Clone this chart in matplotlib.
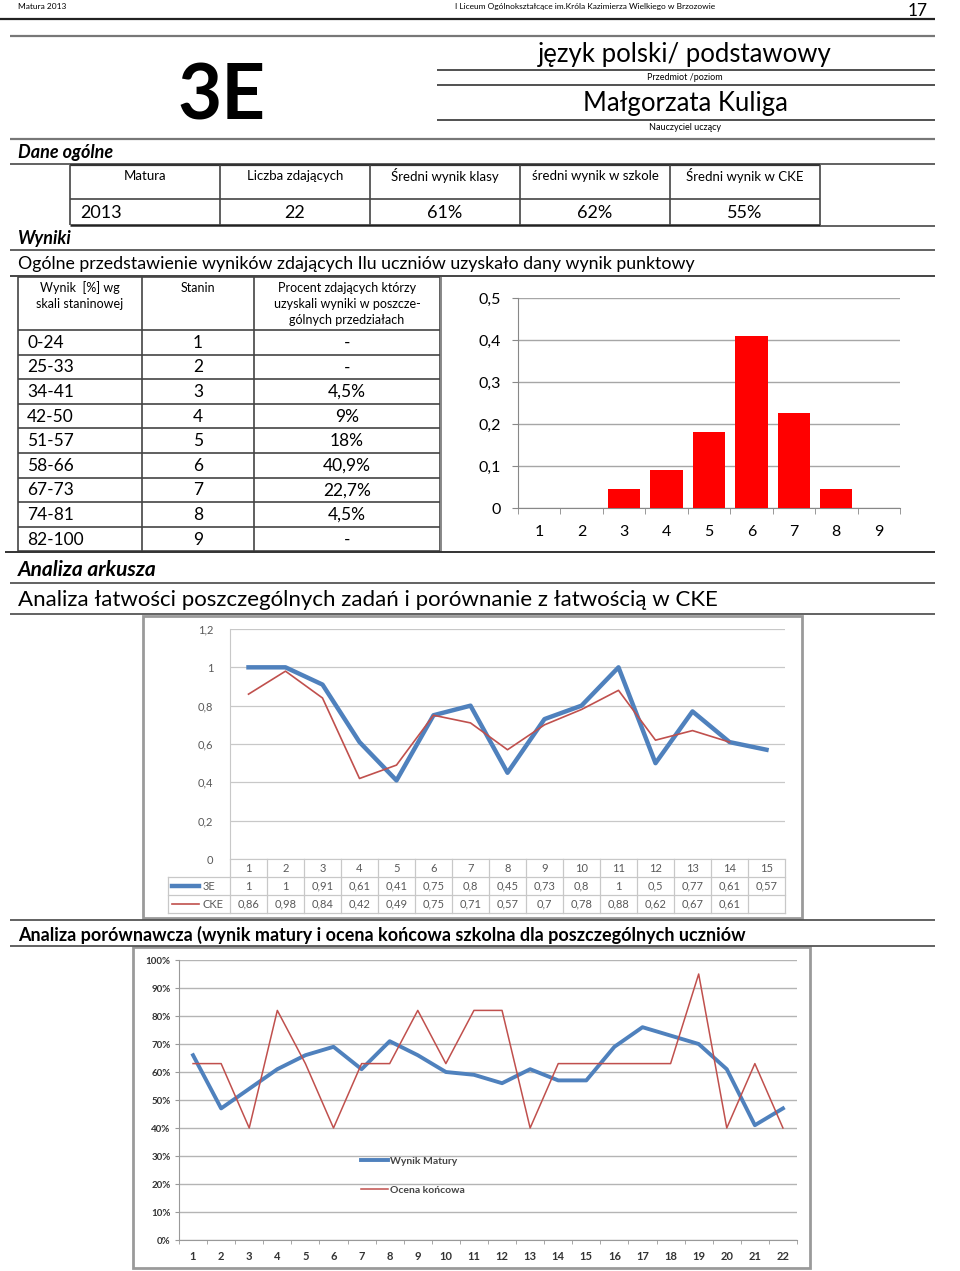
import matplotlib
matplotlib.use('Agg')
import matplotlib.pyplot as plt
import matplotlib.transforms as mtransforms
from matplotlib.patches import Rectangle

plt.rcParams['font.family'] = ['Lato', 'DejaVu Sans']

# --- dane ---
dane_naglowki = ['Matura', 'Liczba zdających', 'Średni wynik klasy', 'średni wynik w szkole', 'Średni wynik w CKE']
dane_wartosci = ['2013', '22', '61%', '62%', '55%']

przedzialy = ['0-24', '25-33', '34-41', '42-50', '51-57', '58-66', '67-73', '74-81', '82-100']
staniny = [1, 2, 3, 4, 5, 6, 7, 8, 9]
udzial = [0, 0, 0.045, 0.09, 0.18, 0.409, 0.227, 0.045, 0]

zadania = list(range(1, 16))
latwosc_3e = [1, 1, 0.91, 0.61, 0.41, 0.75, 0.8, 0.45, 0.73, 0.8, 1, 0.5, 0.77, 0.61, 0.57]
latwosc_cke = [0.86, 0.98, 0.84, 0.42, 0.49, 0.75, 0.71, 0.57, 0.7, 0.78, 0.88, 0.62, 0.67, 0.61]

uczniowie = list(range(1, 23))
wynik_matury = [66, 47, 54, 61, 66, 69, 61, 71, 66, 60, 59, 56, 61, 57, 57, 69, 76, 73, 70, 61, 41, 47]
ocena_koncowa = [63, 63, 40, 82, 63, 40, 63, 63, 82, 63, 82, 82, 40, 63, 63, 63, 63, 63, 95, 40, 63, 40]

W, H = 960, 1271
fig = plt.figure(figsize=(W / 100, H / 100), dpi=100)
page = fig.add_axes([0, 0, 1, 1])
page.set_xlim(0, W)
page.set_ylim(H, 0)
page.axis('off')


def px_axes(x0, y0, x1, y1):
    return fig.add_axes([x0 / W, 1 - y1 / H, (x1 - x0) / W, (y1 - y0) / H])


def hline(y, x0=10, x1=935, c='#555555', lw=1.3):
    page.plot([x0, x1], [y, y], color=c, lw=lw, solid_capstyle='butt')


def vline(x, y0, y1, c='#444444', lw=1.2):
    page.plot([x, x], [y0, y1], color=c, lw=lw, solid_capstyle='butt')


def txt(x, y, s, size, ha='left', **kw):
    page.text(x, y + 1.5, s, fontsize=size, ha=ha, va='center', **kw)


def fmt(v):
    return f"{v:g}".replace('.', ',')


# --- naglowek strony ---
txt(18, 5, 'Matura 2013', 6)
txt(585, 5, 'I Liceum Ogólnokształcące im.Króla Kazimierza Wielkiego w Brzozowie', 6, ha='center')
txt(918, 9, '17', 12.5, ha='center')
hline(19, 0, 935, c='#222222', lw=1.6)
hline(36, c='#777777', lw=1.6)

txt(222, 96, '3E', 55, ha='center', weight='bold')
txt(685, 53, 'język polski/ podstawowy', 18.5, ha='center')
hline(70, 437, 935, c='#333333', lw=1.2)
txt(685, 76, 'Przedmiot /poziom', 6.5, ha='center')
hline(85, 437, 935, c='#333333', lw=1.2)
txt(685, 102, 'Małgorzata Kuliga', 18.5, ha='center')
hline(120, 437, 935, c='#333333', lw=1.2)
txt(685, 126, 'Nauczyciel uczący', 6.5, ha='center')
hline(139, c='#777777', lw=1.6)

# --- dane ogolne ---
txt(18, 151, 'Dane ogólne', 13, weight='bold', style='italic')
hline(164)
cols = [70, 220, 370, 520, 670, 820]
hline(165, 70, 820, c='#333333', lw=1.6)
hline(199, 70, 820, c='#444444', lw=1.2)
hline(225, 70, 820, c='#222222', lw=1.8)
hline(226, 820, 935)
for x in cols:
    vline(x, 165, 225)
for i, (h, v) in enumerate(zip(dane_naglowki, dane_wartosci)):
    cx = (cols[i] + cols[i + 1]) / 2
    txt(cx, 174, h, 9.5, ha='center')
    if i == 0:
        txt(80, 212, v, 13)
    else:
        txt(cx, 212, v, 13, ha='center')

# --- wyniki ---
txt(18, 237, 'Wyniki', 13, weight='bold', style='italic')
hline(250)
txt(18, 262, 'Ogólne przedstawienie wyników zdających Ilu uczniów uzyskało dany wynik punktowy', 12.8)
hline(276, 10, 935, c='#444444', lw=1.4)

tcols = [18, 142, 254, 440]
rows = [277, 330] + [330 + 24.6 * (i + 1) for i in range(9)]
for x in tcols:
    vline(x, 277, 552)
for y in rows:
    hline(y, 18, 440, c='#444444', lw=1.2)
vline(441, 277, 552, c='#888888', lw=1.4)
txt(80, 286, 'Wynik  [%] wg', 9, ha='center')
txt(80, 302, 'skali staninowej', 9, ha='center')
txt(198, 286, 'Stanin', 9, ha='center')
txt(347, 286, 'Procent zdających którzy', 9, ha='center')
txt(347, 302, 'uzyskali wyniki w poszcze-', 9, ha='center')
txt(347, 319, 'gólnych przedziałach', 9, ha='center')
for i in range(9):
    yc = (rows[i + 1] + rows[i + 2]) / 2
    txt(27, yc - 1, przedzialy[i], 12.5)
    txt(198, yc - 1, str(staniny[i]), 12.5, ha='center')
    lab = '-' if udzial[i] == 0 else fmt(udzial[i] * 100) + '%'
    txt(347, yc - 1, lab, 12.5, ha='center')
hline(552, 5, 935, c='#333333', lw=1.4)

# wykres staninow
ax1 = px_axes(518, 298, 900, 508)
ax1.bar(staniny, udzial, width=0.76, color='#ff0000', zorder=3)
ax1.set_xlim(0.5, 9.5)
ax1.set_ylim(0, 0.5)
ax1.set_yticks([0, 0.1, 0.2, 0.3, 0.4, 0.5])
ax1.set_yticklabels([fmt(v) for v in [0, 0.1, 0.2, 0.3, 0.4, 0.5]])
ax1.set_xticks(staniny)
ax1.set_xticks([k + 0.5 for k in range(10)], minor=True)
ax1.tick_params(axis='x', which='major', length=0, pad=12, labelsize=11.5)
ax1.tick_params(axis='x', which='minor', length=4, color='#888888')
ax1.tick_params(axis='y', length=4, color='#888888', labelsize=11.5, pad=8)
ax1.grid(axis='y', color='#a6a6a6', lw=1)
for s in ['top', 'right']:
    ax1.spines[s].set_visible(False)
for s in ['left', 'bottom']:
    ax1.spines[s].set_color('#888888')
ax1.set_facecolor('none')

# --- analiza arkusza ---
txt(18, 568, 'Analiza arkusza', 15, weight='bold', style='italic')
hline(583)
txt(18, 599, 'Analiza łatwości poszczególnych zadań i porównanie z łatwością w CKE', 16)
hline(614)
page.add_patch(Rectangle((143, 616), 659, 302, fill=False, ec='#9a9a9a', lw=2))

ax2 = px_axes(230, 629, 785, 859)
ax2.plot(zadania, latwosc_3e, color='#4f81bd', lw=3.2, zorder=3)
ax2.plot(zadania[:len(latwosc_cke)], latwosc_cke, color='#c0504d', lw=1.2, zorder=3)
ax2.set_xlim(0.5, 15.5)
ax2.set_ylim(0, 1.2)
yt = [0, 0.2, 0.4, 0.6, 0.8, 1, 1.2]
ax2.set_yticks(yt)
ax2.set_yticklabels([fmt(v) for v in yt])
ax2.set_xticks([])
ax2.tick_params(axis='y', length=0, pad=12, labelsize=8, labelcolor='#595959')
ax2.grid(axis='y', color='#c8c8c8', lw=0.9)
for s in ['top', 'right']:
    ax2.spines[s].set_visible(False)
for s in ['left', 'bottom']:
    ax2.spines[s].set_color('#c8c8c8')

tr = mtransforms.blended_transform_factory(ax2.transData, ax2.transAxes)
rh = 18 / 230
xl = 0.5 - (230 - 168) / 37
tc = '#c8c8c8'
for k in range(16):
    ax2.plot([0.5 + k, 0.5 + k], [0, -3 * rh], color=tc, lw=0.9, transform=tr, clip_on=False)
for r in [1, 2, 3]:
    ax2.plot([xl, 15.5], [-r * rh, -r * rh], color=tc, lw=0.9, transform=tr, clip_on=False)
ax2.plot([xl, xl], [-rh, -3 * rh], color=tc, lw=0.9, transform=tr, clip_on=False)
ax2.plot([xl + 0.1, xl + 0.85], [-1.5 * rh] * 2, color='#4f81bd', lw=3.2, transform=tr, clip_on=False)
ax2.plot([xl + 0.1, xl + 0.85], [-2.5 * rh] * 2, color='#c0504d', lw=1.2, transform=tr, clip_on=False)
ax2.text(xl + 0.93, -1.5 * rh, '3E', transform=tr, fontsize=8, color='#595959', va='center')
ax2.text(xl + 0.93, -2.5 * rh, 'CKE', transform=tr, fontsize=8, color='#595959', va='center')
for i, z in enumerate(zadania):
    ax2.text(z, -0.5 * rh, str(z), transform=tr, fontsize=8, color='#595959', ha='center', va='center')
    ax2.text(z, -1.5 * rh, fmt(latwosc_3e[i]), transform=tr, fontsize=8, color='#595959', ha='center', va='center')
    if i < len(latwosc_cke):
        ax2.text(z, -2.5 * rh, fmt(latwosc_cke[i]), transform=tr, fontsize=8, color='#595959', ha='center', va='center')

# --- analiza porownawcza ---
hline(920)
txt(18, 933, 'Analiza porównawcza (wynik matury i ocena końcowa szkolna dla poszczególnych uczniów', 13, weight='bold')
hline(946)
page.add_patch(Rectangle((133, 947), 677, 321, fill=False, ec='#9a9a9a', lw=2))

ax3 = px_axes(179, 960, 797, 1240)
ax3.plot(uczniowie, wynik_matury, color='#4f81bd', lw=2.8, label='Wynik Matury', zorder=3)
ax3.plot(uczniowie, ocena_koncowa, color='#c0504d', lw=1.1, label='Ocena końcowa', zorder=3)
ax3.set_xlim(0.5, 22.5)
ax3.set_ylim(0, 100)
ax3.set_yticks(range(0, 101, 10))
ax3.set_yticklabels([f"{v}%" for v in range(0, 101, 10)])
ax3.set_xticks(uczniowie)
ax3.set_xticks([k + 0.5 for k in range(23)], minor=True)
ax3.tick_params(axis='x', which='major', length=0, pad=8, labelsize=8, labelcolor='#333333')
ax3.tick_params(axis='x', which='minor', length=3, color='#999999')
ax3.tick_params(axis='y', length=3, color='#999999', labelsize=7, labelcolor='#333333', pad=3)
for lab in ax3.get_xticklabels() + ax3.get_yticklabels():
    lab.set_fontweight('bold')
ax3.grid(axis='y', color='#b4b4b4', lw=1)
for s in ['top', 'right']:
    ax3.spines[s].set_visible(False)
for s in ['left', 'bottom']:
    ax3.spines[s].set_color('#999999')
leg = ax3.legend(loc='center left', bbox_to_anchor=(0.28, 0.229), frameon=False,
                 handlelength=2.6, handletextpad=0.15, labelspacing=1.9, prop={'size': 7.5, 'weight': 'bold'})
for t in leg.get_texts():
    t.set_color('#444444')

fig.savefig('out.png', dpi=100)
